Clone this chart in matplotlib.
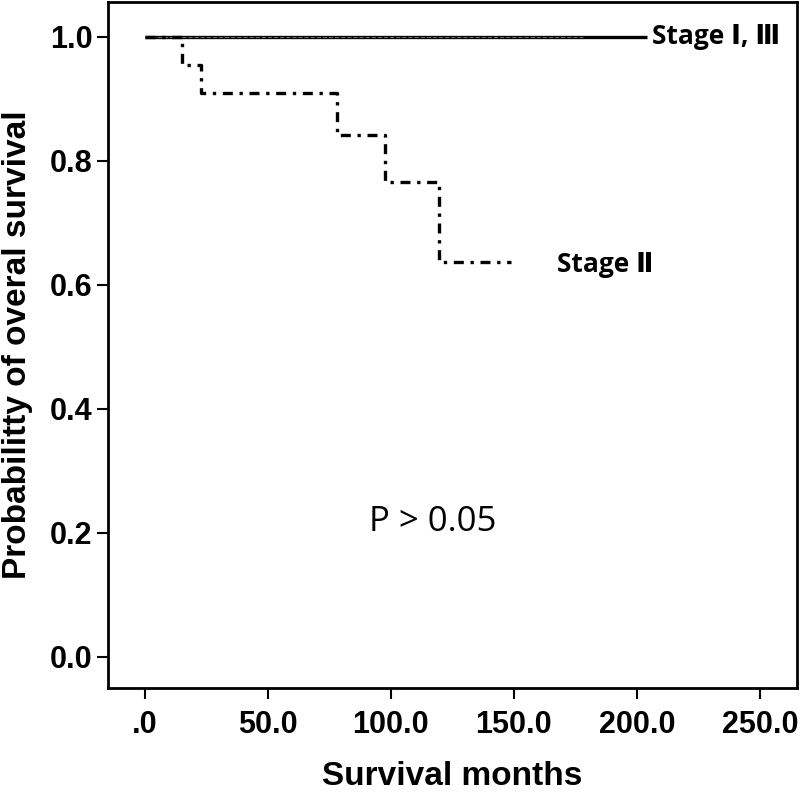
import matplotlib
matplotlib.use('Agg')
import matplotlib.pyplot as plt

# Kaplan-Meier curves
stage_i_months = [0, 178]
stage_i_surv = [1.0, 1.0]
stage_iii_months = [0, 204]
stage_iii_surv = [1.0, 1.0]
stage_ii_months = [0, 15, 23, 78, 97.5, 119.5, 149]
stage_ii_surv = [1.0, 0.955, 0.909, 0.841, 0.765, 0.637, 0.637]

x_ticks = [0, 50, 100, 150, 200, 250]
x_tick_labels = ['.0', '50.0', '100.0', '150.0', '200.0', '250.0']
y_ticks = [0.0, 0.2, 0.4, 0.6, 0.8, 1.0]
y_tick_labels = ['0.0', '0.2', '0.4', '0.6', '0.8', '1.0']

fig = plt.figure(figsize=(8, 7.94), dpi=100)
ax = fig.add_axes([0.135, 0.1335, 0.861, 0.864])

# Curves
ax.plot(stage_iii_months, stage_iii_surv, color='black', lw=2.4, solid_capstyle='butt')
ax.plot(stage_i_months, stage_i_surv, color='#666666', lw=0.8, linestyle=(0, (4, 1.5)))
ax.plot(stage_ii_months, stage_ii_surv, color='black', lw=2.4, drawstyle='steps-post',
        linestyle=(0, (3, 2, 1, 2)))

# Annotations
label_font = ['Open Sans', 'DejaVu Sans']
ax.text(206, 1.0, 'Stage \u2160, \u2162', fontsize=19, fontweight='bold',
        family=label_font, va='center', ha='left')
ax.text(167.5, 0.632, 'Stage \u2161', fontsize=19, fontweight='bold',
        family=label_font, va='center', ha='left')
ax.text(91, 0.218, 'P > 0.05', fontsize=25,
        family=label_font, va='center', ha='left')

# Axes styling
ax.set_xlim(-15, 265)
ax.set_ylim(-0.05, 1.056)
ax.set_xticks(x_ticks)
ax.set_xticklabels(x_tick_labels)
ax.set_yticks(y_ticks)
ax.set_yticklabels(y_tick_labels)
for lab in ax.get_xticklabels() + ax.get_yticklabels():
    lab.set_fontfamily('Liberation Sans')
    lab.set_fontweight('bold')
    lab.set_fontsize(22)
ax.tick_params(axis='both', direction='out', length=8, width=1.5, color='black')
ax.tick_params(axis='x', pad=8)
ax.tick_params(axis='y', pad=3)
for sp in ax.spines.values():
    sp.set_linewidth(2.0)
    sp.set_color('black')

ax.set_xlabel('Survival months', fontsize=24, fontweight='bold',
              family='Liberation Sans', labelpad=15)
ax.set_ylabel('Probabilitty of overal survival', fontsize=24, fontweight='bold',
              family='Liberation Sans', labelpad=12)

fig.savefig('out.png', dpi=100)
